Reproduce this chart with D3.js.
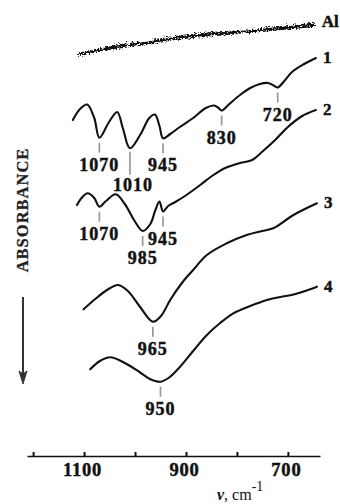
<!DOCTYPE html>
<html>
<head>
<meta charset="utf-8">
<script src="https://cdn.jsdelivr.net/npm/d3@7/dist/d3.min.js"></script>
<style>
  html, body { margin: 0; padding: 0; background: #fff; }
  svg { display: block; }
</style>
</head>
<body>
<div id="chart"></div>
<script>
// IR absorbance spectra (wavenumber in cm^-1, absorbance in offset arbitrary units,
// absorbance grows downwards as the arrow indicates).
const seriesNames = ["Al", "1", "2", "3", "4"];

const alWn  = [1111, 1049, 984, 918, 853, 787, 722, 653];
const alAbs = [0.427, 0.36, 0.317, 0.26, 0.227, 0.20, 0.167, 0.133];

const s1Wn  = [1122, 1108, 1094, 1080, 1070, 1051, 1035, 1024, 1010, 990, 972, 961, 952, 945,
               931, 912, 886, 861, 845, 837, 830, 817, 794, 774, 755, 739, 728, 720, 707, 692, 670, 645];
const s1Abs = [1.10, 0.99, 0.945, 1.08, 1.277, 1.12, 1.02, 1.18, 1.383, 1.25, 1.08, 1.045, 1.16, 1.283,
               1.24, 1.17, 1.08, 0.98, 0.955, 0.975, 1.005, 0.95, 0.85, 0.78, 0.74, 0.73, 0.755, 0.775, 0.71, 0.62, 0.545, 0.48];

const s2Wn  = [1114, 1104, 1093, 1080, 1070, 1057, 1038, 1020, 1002, 985, 970, 960, 952, 945,
               935, 921, 902, 872, 849, 823, 794, 770, 751, 725, 700, 672, 645];
const s2Abs = [1.95, 1.875, 1.833, 1.88, 1.967, 1.91, 1.843, 1.94, 2.10, 2.21, 2.14, 2.00, 1.915, 2.015,
               1.96, 1.92, 1.86, 1.75, 1.66, 1.58, 1.53, 1.50, 1.42, 1.30, 1.17, 1.06, 1.00];

const s3Wn  = [1101, 1078, 1055, 1033, 1014, 990, 965, 949, 931, 908, 886, 859, 820, 781, 751, 729, 689, 643];
const s3Abs = [2.993, 2.89, 2.80, 2.75, 2.81, 2.97, 3.117, 3.06, 2.90, 2.73, 2.60, 2.45, 2.333, 2.25, 2.21, 2.183, 2.05, 1.933];

const s4Wn  = [1088, 1069, 1049, 1020, 990, 971, 950, 933, 912, 886, 859, 833, 807, 774, 741, 715, 689, 666, 643];
const s4Abs = [3.593, 3.51, 3.473, 3.53, 3.625, 3.69, 3.717, 3.675, 3.57, 3.41, 3.25, 3.13, 3.033, 2.96, 2.90, 2.87, 2.845, 2.81, 2.767];

// Band positions marked under each spectrum (cm^-1)
const bands1 = [1070, 1010, 945, 830, 720];
const bands2 = [1070, 985, 945];
const bands3 = [965];
const bands4 = [950];

const axisTicks = [1200, 1100, 1000, 900, 800, 700];
const axisLabels = [1100, 900, 700];

const W = 340, H = 504;
const serif = "'Liberation Serif', 'Times New Roman', serif";
const ink = "#111";

const svg = d3.select("#chart").append("svg")
  .attr("width", W).attr("height", H)
  .attr("viewBox", `0 0 ${W} ${H}`);

const x = d3.scaleLinear().domain([1212, 637]).range([27, 320]);
const y = d3.scaleLinear().domain([0, 4.4]).range([10, 450]);

// Rough texture for the noisy reference trace
const defs = svg.append("defs");
const rough = defs.append("filter").attr("id", "rough")
  .attr("filterUnits", "userSpaceOnUse")
  .attr("x", 60).attr("y", 5).attr("width", 270).attr("height", 60);
rough.append("feTurbulence").attr("type", "turbulence")
  .attr("baseFrequency", "0.35 0.9").attr("numOctaves", 2).attr("seed", 11).attr("result", "n");
rough.append("feDisplacementMap").attr("in", "SourceGraphic").attr("in2", "n")
  .attr("scale", 6).attr("xChannelSelector", "R").attr("yChannelSelector", "G");

const line = d3.line()
  .x(d => x(d[0])).y(d => y(d[1]))
  .curve(d3.curveCatmullRom.alpha(0.5));

const series = [
  { name: seriesNames[0], wn: alWn, abs: alAbs, bands: [], noisy: true },
  { name: seriesNames[1], wn: s1Wn, abs: s1Abs, bands: bands1, staggered: [1010] },
  { name: seriesNames[2], wn: s2Wn, abs: s2Abs, bands: bands2 },
  { name: seriesNames[3], wn: s3Wn, abs: s3Abs, bands: bands3 },
  { name: seriesNames[4], wn: s4Wn, abs: s4Abs, bands: bands4 }
];

// bold serif text with a hairline outline for a heavier print look
function heavy(sel, size) {
  return sel.attr("font-family", serif)
    .attr("font-weight", "bold")
    .attr("font-size", size)
    .attr("fill", ink)
    .attr("stroke", ink)
    .attr("stroke-width", 0.45);
}

const plot = svg.append("g");

series.forEach(s => {
  const pts = s.wn.map((w, i) => [w, s.abs[i]]);
  const path = plot.append("path")
    .datum(pts)
    .attr("d", line)
    .attr("fill", "none")
    .attr("stroke", ink)
    .attr("stroke-width", s.noisy ? 3.2 : 2.1)
    .attr("stroke-linejoin", "round")
    .attr("stroke-linecap", "round");
  if (s.noisy) path.attr("filter", "url(#rough)");

  // series name at the right end of the trace
  const last = pts[pts.length - 1];
  plot.append("text")
    .attr("x", x(last[0]) + (s.noisy ? 10 : 7))
    .attr("y", y(last[1]) + (s.noisy ? 4 : 5))
    .call(heavy, 17)
    .text(s.name);

  // band markers: short grey tick below the minimum and the band value
  s.bands.forEach(b => {
    const i = s.wn.indexOf(b);
    const yb = y(s.abs[i]);
    const long = (s.staggered || []).includes(b);
    const y0 = yb + (long ? 3.5 : 5);
    const y1 = y0 + (long ? 23 : 10);
    plot.append("line")
      .attr("x1", x(b)).attr("x2", x(b))
      .attr("y1", y0).attr("y2", y1)
      .attr("stroke", "#999").attr("stroke-width", 1.7);
    plot.append("text")
      .attr("x", x(b) + (long ? 3 : 0))
      .attr("y", y1 + (long ? 16.5 : 18))
      .attr("text-anchor", "middle")
      .attr("letter-spacing", 1)
      .call(heavy, 18)
      .text(b);
  });
});

// Wavenumber axis
const axis = d3.axisBottom(x)
  .tickValues(axisTicks)
  .tickSizeInner(-4)
  .tickSizeOuter(0)
  .tickPadding(7)
  .tickFormat(d => axisLabels.includes(d) ? d : "");

const ax = svg.append("g")
  .attr("transform", "translate(0,456)")
  .call(axis);
ax.select(".domain").attr("stroke", ink).attr("stroke-width", 1.7);
ax.selectAll(".tick line").attr("stroke", ink).attr("stroke-width", 2);
ax.selectAll(".tick text")
  .attr("letter-spacing", 0.8)
  .attr("dx", -2)
  .call(heavy, 18.5);

// axis title: ν, cm^-1
const xt = svg.append("text")
  .attr("x", 217).attr("y", 500)
  .attr("font-family", serif)
  .attr("font-size", 16)
  .attr("fill", ink);
xt.append("tspan").attr("font-weight", "bold").attr("font-style", "italic").text("ν");
xt.append("tspan").text(", cm");
xt.append("tspan").attr("dy", -9).attr("font-size", 14).text("-1");

// vertical title with downward arrow
svg.append("text")
  .attr("transform", "translate(28,210) rotate(-90)")
  .attr("text-anchor", "middle")
  .attr("letter-spacing", 1)
  .call(heavy, 16.5)
  .attr("fill", "#222").attr("stroke", "#222").attr("stroke-width", 0.3)
  .text("ABSORBANCE");

svg.append("line")
  .attr("x1", 23).attr("x2", 23)
  .attr("y1", 297).attr("y2", 374)
  .attr("stroke", "#333").attr("stroke-width", 2);
svg.append("path")
  .attr("d", "M19,371 L23,384 L27,371 L23,374 Z")
  .attr("fill", "#333").attr("stroke", "#333").attr("stroke-width", 1);
</script>
</body>
</html>
